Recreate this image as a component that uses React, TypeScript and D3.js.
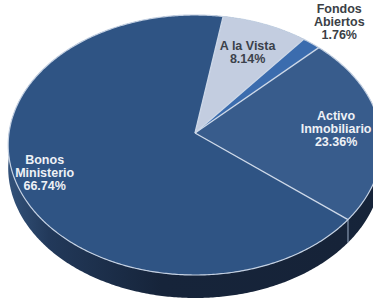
import * as React from "react"
import * as d3 from "d3"

// slices in clockwise order starting near 12 o'clock
const categories = ["A la Vista", "Fondos Abiertos", "Activo Inmobiliario", "Bonos Ministerio"]
const labelLines = [["A la Vista"], ["Fondos", "Abiertos"], ["Activo", "Inmobiliario"], ["Bonos", "Ministerio"]]
const values = [8.14, 1.76, 23.36, 66.74]
const topColors = ["#c3cde0", "#3b6cae", "#385c8c", "#2f5484"]
const labelColors = ["#3b414b", "#3b3f46", "#eef1f6", "#eef1f6"]

const width = 373
const height = 299

export default function App(): React.JSX.Element {
  // perspective tilted disc
  const cx = 195
  const cy = 133
  const bx = 186
  const by = 128.9
  const k = 0.0923
  const depth = 23
  const start = (9.5 * Math.PI) / 180

  const proj = (t: number, r: number): [number, number] => {
    const u = r * Math.sin(t)
    const v = -r * Math.cos(t)
    const d = 1 - k * v
    return [cx + (bx * u) / d, cy + (by * v) / d]
  }

  const arcPts = (a: number, b: number, r = 1, dy = 0) => {
    const n = Math.max(2, Math.ceil(Math.abs(b - a) / 0.01))
    return d3.range(n + 1).map((i) => {
      const p = proj(a + ((b - a) * i) / n, r)
      return [p[0], p[1] + dy] as [number, number]
    })
  }

  const pie = d3
    .pie<number>()
    .sort(null)
    .startAngle(start)
    .endAngle(start + 2 * Math.PI)
  const arcs = pie(values)
  const total = d3.sum(values)

  const line = d3.line()

  const sidePath = (a: number, b: number) =>
    line([...arcPts(a, b), ...arcPts(b, a, 1, depth)]) + "Z"
  const topPath = (a: number, b: number) => line([[cx, cy], ...arcPts(a, b)]) + "Z"

  return (
    <svg
      width={width}
      height={height}
      style={{ position: "absolute", left: 0, top: 0, background: "#fff" }}
    >
      <defs>
        <linearGradient id="side" x1="0" x2="1" y1="0" y2="0">
          <stop offset="0" stopColor="#33527a" />
          <stop offset="0.12" stopColor="#22395a" />
          <stop offset="0.45" stopColor="#16243a" />
          <stop offset="1" stopColor="#162338" />
        </linearGradient>
      </defs>
      <g>
        {arcs.map((d, i) => (
          <path key={"s" + i} d={sidePath(d.startAngle, d.endAngle)} fill="url(#side)" />
        ))}
        {arcs.map((d, i) => {
          const p = proj(d.startAngle, 1)
          if (-Math.cos(d.startAngle) < 0.1) return null
          return (
            <line
              key={"v" + i}
              x1={p[0]}
              y1={p[1]}
              x2={p[0]}
              y2={p[1] + depth}
              stroke="#9fb0c8"
              strokeWidth={1}
            />
          )
        })}
        {arcs.map((d, i) => (
          <path key={"t" + i} d={topPath(d.startAngle, d.endAngle)} fill={topColors[i]} />
        ))}
        {arcs.map((d, i) => {
          const p = proj(d.startAngle, 1)
          return (
            <line
              key={"b" + i}
              x1={cx}
              y1={cy}
              x2={p[0]}
              y2={p[1]}
              stroke="#cdd8e8"
              strokeWidth={1.3}
            />
          )
        })}
        <path
          d={line(arcPts(start, start + 2 * Math.PI)) + "Z"}
          fill="none"
          stroke="#c3d0e2"
          strokeWidth={1.2}
        />
        {arcs.map((d, i) => {
          const frac = values[i] / total
          const mid = (d.startAngle + d.endAngle) / 2
          const r = frac < 0.05 ? 1.26 : 0.72 + 0.18 * frac
          const [x, y] = proj(mid, r)
          const lines = [...labelLines[i], d3.format(".2f")(values[i]) + "%"]
          const lh = 13
          const y0 = y - ((lines.length - 1) * lh) / 2
          return (
            <text
              key={"l" + i}
              textAnchor="middle"
              fontFamily="'Liberation Sans', Arial, sans-serif"
              fontWeight="bold"
              fontSize={12.5}
              fill={labelColors[i]}
              aria-label={categories[i]}
            >
              {lines.map((s, j) => (
                <tspan key={j} x={x} y={y0 + j * lh} dy="0.35em">
                  {s}
                </tspan>
              ))}
            </text>
          )
        })}
      </g>
    </svg>
  )
}
